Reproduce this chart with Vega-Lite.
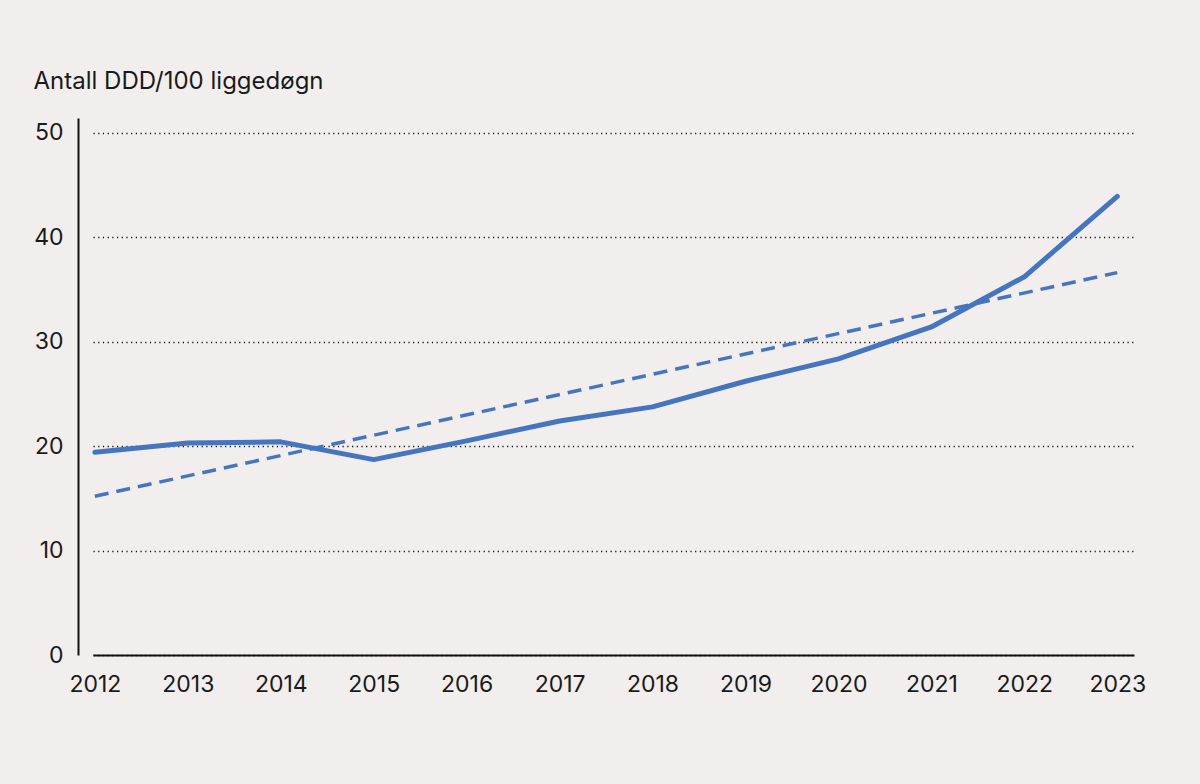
{
  "$schema": "https://vega.github.io/schema/vega-lite/v6.json",
  "autosize": {"type": "none"},
  "width": 1041,
  "height": 537,
  "padding": {"left": 93, "top": 118, "right": 66, "bottom": 129},
  "background": "#f1eeed",
  "config": {
    "view": {"stroke": null},
    "font": "Inter",
    "axis": {"labelFont": "Inter", "titleFont": "Inter", "labelColor": "#1a1a1a", "titleColor": "#1a1a1a"}
  },
  "datasets": {
    "rows": [
      {"year": 2012, "value": 19.4, "series": "Faktisk"},
      {"year": 2013, "value": 20.3, "series": "Faktisk"},
      {"year": 2014, "value": 20.4, "series": "Faktisk"},
      {"year": 2015, "value": 18.7, "series": "Faktisk"},
      {"year": 2016, "value": 20.5, "series": "Faktisk"},
      {"year": 2017, "value": 22.4, "series": "Faktisk"},
      {"year": 2018, "value": 23.75, "series": "Faktisk"},
      {"year": 2019, "value": 26.2, "series": "Faktisk"},
      {"year": 2020, "value": 28.35, "series": "Faktisk"},
      {"year": 2021, "value": 31.4, "series": "Faktisk"},
      {"year": 2022, "value": 36.2, "series": "Faktisk"},
      {"year": 2023, "value": 43.9, "series": "Faktisk"},
      {"year": 2012, "value": 15.2, "series": "Trend"},
      {"year": 2023, "value": 36.6, "series": "Trend"}
    ]
  },
  "data": {"name": "rows"},
  "encoding": {
    "x": {
      "field": "year", "type": "quantitative",
      "scale": {"domain": [2011.98, 2023.18], "nice": false, "zero": false},
      "axis": {
        "values": [2012, 2013, 2014, 2015, 2016, 2017, 2018, 2019, 2020, 2021, 2022, 2023],
        "format": "d", "title": null, "grid": false, "ticks": false,
        "domainColor": "#111111", "domainWidth": 2,
        "labelFontSize": 23, "labelPadding": 18, "labelFlush": false
      }
    },
    "y": {
      "field": "value", "type": "quantitative",
      "scale": {"domain": [0, 51.4], "nice": false},
      "axis": {
        "values": [0, 10, 20, 30, 40, 50],
        "title": "Antall DDD/100 liggedøgn",
        "titleAngle": 0, "titleAlign": "left", "titleBaseline": "alphabetic",
        "titleX": -45, "titleY": -30, "titleFontSize": 24, "titleFontWeight": "normal",
        "offset": 15, "ticks": false,
        "domainColor": "#111111", "domainWidth": 2,
        "labelFontSize": 23, "labelPadding": 15,
        "grid": true, "gridColor": "#111111", "gridDash": [1.2, 3.5], "gridWidth": 1.3
      }
    }
  },
  "layer": [
    {
      "transform": [{"filter": "datum.series === 'Faktisk'"}],
      "mark": {"type": "line", "color": "#4675c0", "strokeWidth": 5, "strokeCap": "round", "strokeJoin": "round"}
    },
    {
      "transform": [{"filter": "datum.series === 'Trend'"}],
      "mark": {"type": "line", "color": "#4675c0", "strokeWidth": 3.5, "strokeDash": [14, 8]}
    }
  ]
}
